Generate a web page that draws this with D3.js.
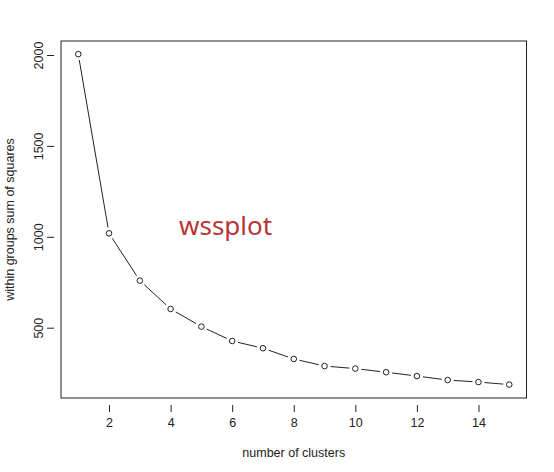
<!DOCTYPE html>
<html>
<head>
<meta charset="utf-8">
<script src="https://cdn.jsdelivr.net/npm/d3@7"></script>
<style>
  html, body { margin: 0; padding: 0; background: #fff; }
  svg { display: block; }
</style>
</head>
<body>
<svg id="chart" width="554" height="472"></svg>
<script>
const clusters = [1,2,3,4,5,6,7,8,9,10,11,12,13,14,15];
const wss = [2005,1019,759,603,506,427,387,328,289,275,255,234,212,201,187];
const xTicks = [2,4,6,8,10,12,14];
const yTicks = [500,1000,1500,2000];
const xLabel = "number of clusters";
const yLabel = "within groups sum of squares";
const annotation = "wssplot";

const svg = d3.select("#chart");
const box = {left: 61, right: 526.5, top: 41, bottom: 398};
const font = "'Liberation Sans', Arial, sans-serif";

// R-style 4% domain extension
const xExt = (15 - 1) * 0.04;
const x = d3.scaleLinear().domain([1 - xExt, 15 + xExt]).range([box.left, box.right]);
const yScale = d3.scaleLinear().domain([500, 2000]).range([327.7, 55]);

svg.append("rect").attr("width", 554).attr("height", 472).attr("fill", "#fff");

// plot box
svg.append("rect")
  .attr("x", box.left).attr("y", box.top)
  .attr("width", box.right - box.left).attr("height", box.bottom - box.top)
  .attr("fill", "none").attr("stroke", "#222").attr("stroke-width", 1);

// x axis
const xAxis = d3.axisBottom(x).tickValues(xTicks).tickSize(7).tickPadding(4).tickFormat(d3.format("d"));
const gx = svg.append("g").attr("transform", `translate(0,${box.bottom + 7})`).call(xAxis);
gx.select(".domain").remove();
gx.selectAll(".tick line").attr("stroke", "#222");
gx.selectAll(".tick text").attr("font-family", font).attr("font-size", 12.5).attr("fill", "#222")
  .attr("dy", "0.9em");

// y axis
const yAxis = d3.axisLeft(yScale).tickValues(yTicks).tickSize(7).tickFormat(d3.format("d"));
const gy = svg.append("g").attr("transform", `translate(${box.left - 7},0)`).call(yAxis);
gy.select(".domain").remove();
gy.selectAll(".tick line").attr("stroke", "#222");
gy.selectAll(".tick text")
  .attr("font-family", font).attr("font-size", 12.5).attr("fill", "#222")
  .attr("x", 0).attr("dy", 0)
  .attr("text-anchor", "middle")
  .attr("transform", "translate(-11,0) rotate(-90)");

// lines with gaps (type = "b")
const pts = clusters.map((c, i) => [x(c), yScale(wss[i])]);
const gap = 6;
const segs = [];
for (let i = 0; i < pts.length - 1; i++) {
  const [x1, y1] = pts[i], [x2, y2] = pts[i + 1];
  const dx = x2 - x1, dy = y2 - y1, len = Math.hypot(dx, dy);
  if (len > 2 * gap) {
    const ux = dx / len, uy = dy / len;
    segs.push([x1 + ux * gap, y1 + uy * gap, x2 - ux * gap, y2 - uy * gap]);
  }
}
svg.append("g").selectAll("line").data(segs).join("line")
  .attr("x1", d => d[0]).attr("y1", d => d[1])
  .attr("x2", d => d[2]).attr("y2", d => d[3])
  .attr("stroke", "#222").attr("stroke-width", 1);

svg.append("g").selectAll("circle").data(clusters).join("circle")
  .attr("cx", d => x(d))
  .attr("cy", (d, i) => yScale(wss[i]))
  .attr("r", 2.8)
  .attr("fill", "#fff").attr("stroke", "#222").attr("stroke-width", 1);

// axis titles
svg.append("text")
  .attr("x", (box.left + box.right) / 2).attr("y", 457)
  .attr("text-anchor", "middle")
  .attr("font-family", font).attr("font-size", 12.5).attr("fill", "#222")
  .text(xLabel);

svg.append("text")
  .attr("transform", `translate(14,${(box.top + box.bottom) / 2}) rotate(-90)`)
  .attr("text-anchor", "middle")
  .attr("font-family", font).attr("font-size", 12.5).attr("fill", "#222")
  .text(yLabel);

// annotation
svg.append("text")
  .attr("x", 179).attr("y", 235)
  .attr("font-family", "'Noto Sans', 'Open Sans', sans-serif").attr("font-size", 26)
  .attr("fill", "#b73535")
  .text(annotation);
</script>
</body>
</html>
